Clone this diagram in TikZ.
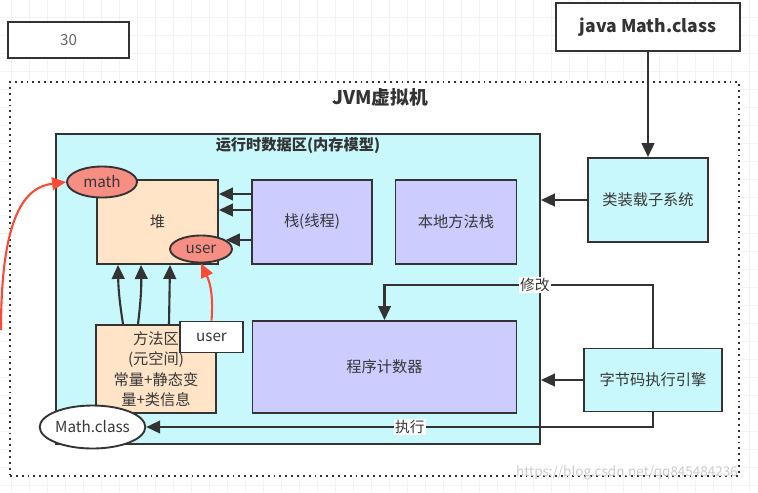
\documentclass[tikz,border=0pt]{standalone}
\usepackage{fontspec}
\setmainfont{Noto Sans CJK SC}
\usetikzlibrary{arrows.meta,positioning,shapes.geometric}
\definecolor{ink}{RGB}{51,51,51}
\definecolor{txt}{RGB}{55,55,55}
\definecolor{aqua}{RGB}{200,248,251}
\definecolor{lilac}{RGB}{204,204,255}
\definecolor{peach}{RGB}{255,228,200}
\definecolor{salmon}{RGB}{246,142,132}
\definecolor{alert}{RGB}{250,75,55}
\def\px{0.03cm}
\tikzset{
  box/.style={draw=ink,fill=#1,line width=1.6pt,align=center,text=txt,
    font=\fontsize{13}{16}\selectfont,inner sep=1pt},
  box/.default=white,
  sz/.style 2 args={minimum width=#1*\px,minimum height=#2*\px},
  oval/.style={ellipse,draw=ink,fill=#1,line width=1.6pt,inner sep=0pt,
    text=txt,font=\fontsize{13}{16}\selectfont},
  oval/.default=white,
  flow/.style={-{Triangle[length=4.2mm,width=3.8mm]},line width=1.8pt,draw=#1},
  flow/.default=ink,
  tag/.style={fill=white,inner sep=1pt,text=txt,font=\fontsize{12.5}{15}\selectfont},
  title/.style={text=ink,font=\fontsize{#1}{#1}\selectfont\bfseries},
  title/.default=13,
  gridline/.style={gray!9,line width=0.5pt},
}

\begin{document}
\begin{tikzpicture}[x=\px,y=-\px]
  \useasboundingbox (0,0) rectangle (758,492);
  % background grid
  \foreach \x in {11,29,...,758} \draw[gridline] (\x,0) -- (\x,492);
  \foreach \y in {17,35,...,492} \draw[gridline] (0,\y) -- (758,\y);

  \node[box,sz={121}{36},text=gray!80!black] (n30) at (68.5,40) {30};
  \node[box,sz={184}{48},title=15] (javacls) at (648,27) {java Math.class};

  % JVM frame
  \node[draw=ink,fill=white,line width=1.6pt,dash pattern=on 1.6pt off 3.4pt,
    sz={729}{394}] (jvm) at (374.5,279) {};
  \node[title=16] at (380,97) {JVM虚拟机};

  % runtime data area
  \node[box=aqua,sz={484}{310}] (rt) at (298,289) {};
  \node[title] at (rt.north |- 0,146) {运行时数据区(内存模型)};

  \node[box=peach,sz={121}{84}] (heap) at (157.5,222) {堆};
  \node[box=lilac,sz={120}{84}] (stack) at (312,222) {栈(线程)};
  \node[box=lilac,sz={121}{84}] (native) at (456,222) {本地方法栈};
  \node[box=lilac,sz={264}{92}] (pc) at (384.5,367) {程序计数器};
  \node[box=peach,sz={120}{88},font=\fontsize{13}{17.5}\selectfont] (method) at (156,369)
    {方法区\\(元空间)\\常量+静态变\\量+类信息};
  \node[box,sz={63}{31}] (userbox) at (211.5,337) {user};

  \node[oval=salmon,sz={70}{31}] (mathell) at (102,182) {math};
  \node[oval=salmon,sz={62}{27}] (userell) at (201,249) {user};
  \node[oval,sz={105}{43}] (mathcls) at (92.5,427) {Math.class};

  \node[box=aqua,sz={120}{84}] (loader) at (648,200) {类装载子系统};
  \node[box=aqua,sz={138}{63}] (engine) at (653,380) {字节码执行引擎};

  % connectors
  \draw[flow] (javacls) -- (loader);
  \draw[flow] (loader) -- (rt.east |- loader);
  \draw[flow] (engine) -- (rt.east |- engine);
  \draw[flow] (engine.north) -- ++(0,-63) -| node[tag,pos=0.22] {修改} (pc.north);
  \draw[flow] (engine.south) |- node[tag,pos=0.74] {执行} (mathcls.east);

  \draw[flow] (stack.west |- 0,194) -- (heap.east |- 0,194);
  \draw[flow] (stack.west |- 0,210) -- (heap.east |- 0,210);
  \draw[flow] (stack.west |- userell.20) -- (userell.20);

  \draw[flow] (method.north -| 123,0) to[bend left=4] (heap.south -| 118,0);
  \draw[flow] (method.north -| 138,0) to[bend right=4] (heap.south -| 141,0);
  \draw[flow] (method.north -| 169,0) -- (heap.south -| 170,0);

  \draw[flow=alert] (userbox.north) to[bend right=15] (userell.south);
  \coordinate (src) at (1,330);
  \draw[flow=alert] (src) .. controls (1,215) and (25,187) .. (mathell.west);

  \node[text=gray!40,font=\fontsize{11.5}{14}\selectfont] (wm) at (627,473)
    {https://blog.csdn.net/qq845484236};
\end{tikzpicture}
\end{document}
